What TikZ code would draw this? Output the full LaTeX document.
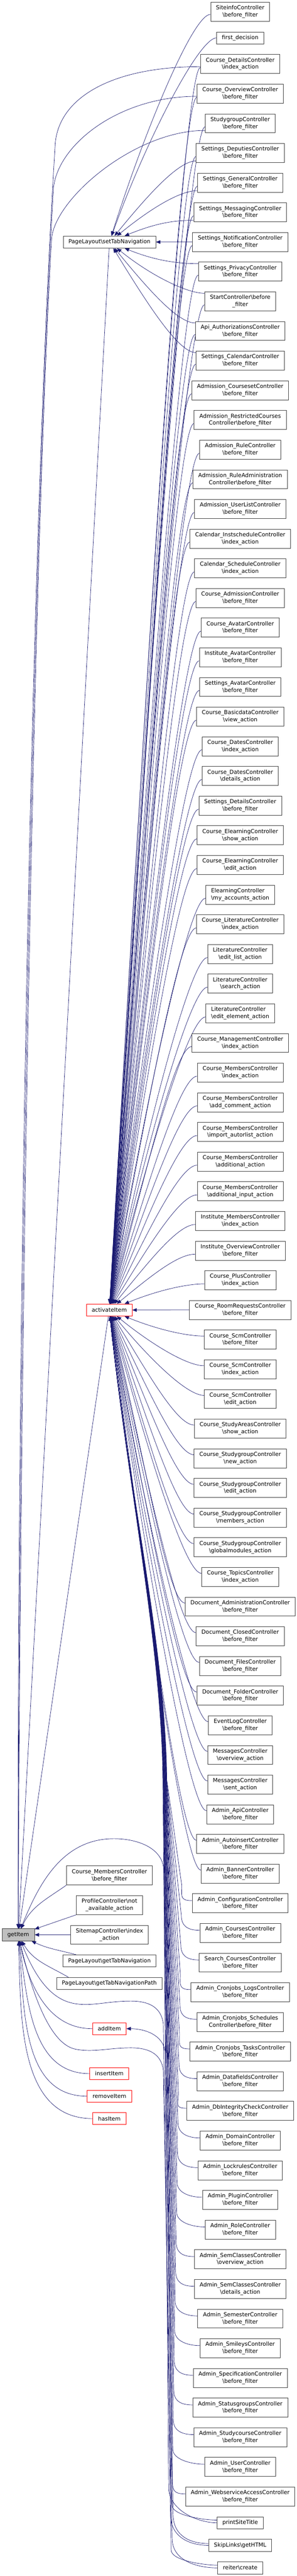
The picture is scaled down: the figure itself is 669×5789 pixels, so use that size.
\documentclass[tikz,border=0pt]{standalone}
\usepackage{fontspec}
\setmainfont{DejaVu Sans}
\usetikzlibrary{arrows.meta,calc}
\definecolor{mblue}{RGB}{25,25,112}
\pgfdeclarelayer{bg}
\pgfsetlayers{bg,main}
\newcommand\bsl{\textbackslash}
\newcommand\lft[2]{\begin{tabular}{@{}l@{}}#1\\#2\end{tabular}}
% drawing unit: 1 unit = 0.1pt (picture is scaled up on output)
% fan edge: #1 source, #2 source y (down), #3 target, #4 target y (down), #5 start offset
\newcommand\callfan[5]{%
  \pgfmathsetmacro\fD{(#4)-(#2)}%
  \pgfmathsetmacro\fA{atan2(\fD,164)}%
  \pgfmathsetmacro\fL{100*veclen(1.64,\fD/100)}%
  \pgfmathsetmacro\fI{0.045*\fL}%
  \pgfmathsetmacro\fO{min(4,0.03*\fL)}%
  \pgfmathsetmacro\fS{\fD>1 ? -0.1*#5 : (\fD<-1 ? 0.1*#5 : 0)}%
  \draw[callarrow] ([yshift=\fS pt]#1.west) to[out=180,in=\fA,out distance=\fO pt,in distance=\fI pt] (#3);
}
% bundle edge from far-below nodes to activateItem: #1 source, #2 source y (down)
\newcommand\callbund[2]{%
  \pgfmathsetmacro\bY{#2}%
  \pgfmathsetmacro\bH{410-(\bY-4250)*0.016}%
  \pgfmathsetmacro\bC{376-(\bY-4250)*0.006}%
  \pgfmathsetmacro\bT{-(\bY-40)}%
  \pgfmathsetmacro\bCC{\bC-3}%
  \draw[callarrow] ([yshift=0.6pt]#1.west) to[out=180,in=-90,out distance=2.8pt,in distance=2.4pt] (\bH,\bT) -- (\bC,-4000) .. controls (\bCC,-3700) and (290,-3350) .. (act);
}
\begin{document}
\begin{tikzpicture}[x=0.1pt,y=0.1pt,
  fn/.style={draw=black!75,line width=0.09pt,fill=white,inner xsep=1.2pt,inner ysep=0.2pt,minimum height=2.7pt,align=center,font=\fontsize{1.25}{1.6}\selectfont},
  fn2/.style={fn,minimum height=4.27pt},
  fnred/.style={fn,draw=red},
  callarrow/.style={draw=mblue,line width=0.08pt,-{Triangle[length=1pt,width=0.8pt]}}]
\useasboundingbox (0,0) rectangle (669,-5789);

% ---------- right column ----------
\node[fn2] (r1) at (541.2,-26.3) {SiteinfoController\\\bsl before\_filter};
\node[fn] (r2) at (541.2,-85.2) {first\_decision};
\foreach \lab [count=\i from 3] in {
Course\_DetailsController\\\bsl index\_action,
Course\_OverviewController\\\bsl before\_filter,
StudygroupController\\\bsl before\_filter,
Settings\_DeputiesController\\\bsl before\_filter,
Settings\_GeneralController\\\bsl before\_filter,
Settings\_MessagingController\\\bsl before\_filter,
Settings\_NotificationController\\\bsl before\_filter,
Settings\_PrivacyController\\\bsl before\_filter,
StartController\bsl before\\\_filter,
Api\_AuthorizationsController\\\bsl before\_filter,
Settings\_CalendarController\\\bsl before\_filter,
Admission\_CoursesetController\\\bsl before\_filter,
Admission\_RestrictedCourses\\Controller\bsl before\_filter,
Admission\_RuleController\\\bsl before\_filter,
Admission\_RuleAdministration\\Controller\bsl before\_filter,
Admission\_UserListController\\\bsl before\_filter,
Calendar\_InstscheduleController\\\bsl index\_action,
Calendar\_ScheduleController\\\bsl index\_action,
Course\_AdmissionController\\\bsl before\_filter,
Course\_AvatarController\\\bsl before\_filter,
Institute\_AvatarController\\\bsl before\_filter,
Settings\_AvatarController\\\bsl before\_filter,
Course\_BasicdataController\\\bsl view\_action,
Course\_DatesController\\\bsl index\_action,
Course\_DatesController\\\bsl details\_action,
Settings\_DetailsController\\\bsl before\_filter,
Course\_ElearningController\\\bsl show\_action,
Course\_ElearningController\\\bsl edit\_action,
\lft{ElearningController}{\bsl my\_accounts\_action},
Course\_LiteratureController\\\bsl index\_action,
LiteratureController\\\bsl edit\_list\_action,
LiteratureController\\\bsl search\_action,
\lft{LiteratureController}{\bsl edit\_element\_action},
Course\_ManagementController\\\bsl index\_action,
Course\_MembersController\\\bsl index\_action,
Course\_MembersController\\\bsl add\_comment\_action,
Course\_MembersController\\\bsl import\_autorlist\_action,
Course\_MembersController\\\bsl additional\_action,
Course\_MembersController\\\bsl additional\_input\_action,
Institute\_MembersController\\\bsl index\_action,
Institute\_OverviewController\\\bsl before\_filter,
Course\_PlusController\\\bsl index\_action,
Course\_RoomRequestsController\\\bsl before\_filter,
Course\_ScmController\\\bsl before\_filter,
Course\_ScmController\\\bsl index\_action,
Course\_ScmController\\\bsl edit\_action,
Course\_StudyAreasController\\\bsl show\_action,
Course\_StudygroupController\\\bsl new\_action,
Course\_StudygroupController\\\bsl edit\_action,
Course\_StudygroupController\\\bsl members\_action,
Course\_StudygroupController\\\bsl globalmodules\_action,
Course\_TopicsController\\\bsl index\_action,
Document\_AdministrationController\\\bsl before\_filter,
Document\_ClosedController\\\bsl before\_filter,
Document\_FilesController\\\bsl before\_filter,
Document\_FolderController\\\bsl before\_filter,
EventLogController\\\bsl before\_filter,
MessagesController\\\bsl overview\_action,
MessagesController\\\bsl sent\_action,
Admin\_ApiController\\\bsl before\_filter,
Admin\_AutoinsertController\\\bsl before\_filter,
Admin\_BannerController\\\bsl before\_filter,
Admin\_ConfigurationController\\\bsl before\_filter,
Admin\_CoursesController\\\bsl before\_filter,
Search\_CoursesController\\\bsl before\_filter,
Admin\_Cronjobs\_LogsController\\\bsl before\_filter,
Admin\_Cronjobs\_Schedules\\Controller\bsl before\_filter,
Admin\_Cronjobs\_TasksController\\\bsl before\_filter,
Admin\_DatafieldsController\\\bsl before\_filter,
Admin\_DbIntegrityCheckController\\\bsl before\_filter,
Admin\_DomainController\\\bsl before\_filter,
Admin\_LockrulesController\\\bsl before\_filter,
Admin\_PluginController\\\bsl before\_filter,
Admin\_RoleController\\\bsl before\_filter,
Admin\_SemClassesController\\\bsl overview\_action,
Admin\_SemClassesController\\\bsl details\_action,
Admin\_SemesterController\\\bsl before\_filter,
Admin\_SmileysController\\\bsl before\_filter,
Admin\_SpecificationController\\\bsl before\_filter,
Admin\_StatusgroupsController\\\bsl before\_filter,
Admin\_StudycourseController\\\bsl before\_filter,
Admin\_UserController\\\bsl before\_filter,
Admin\_WebserviceAccessController\\\bsl before\_filter}
{\node[fn2] (r\i) at (541.2,{-(143.8+(\i-3)*66.667)}) {\lab};}
\node[fn] (r86) at (541.2,-5669.3) {printSiteTitle};
\node[fn] (r87) at (541.2,-5720) {SkipLinks\bsl getHTML};
\node[fn] (r88) at (541.2,-5770.7) {reiter\bsl create};

% ---------- middle and left ----------
\node[fn] (st) at (246.6,-544) {PageLayout\bsl setTabNavigation};
\node[fnred] (act) at (246.2,-2944) {activateItem};
\node[fn2] (cmb) at (246.6,-4214.7) {Course\_MembersController\\\bsl before\_filter};
\node[fn2] (pf) at (246.6,-4281.3) {ProfileController\bsl not\\\_available\_action};
\node[fn2] (sm) at (246.6,-4348) {SitemapController\bsl index\\\_action};
\node[fn,fill=black!25] (gi) at (41.1,-4348) {getItem};
\node[fn] (gtn) at (246.6,-4406.7) {PageLayout\bsl getTabNavigation};
\node[fn] (gtp) at (246.2,-4457.3) {PageLayout\bsl getTabNavigationPath};
\node[fnred] (add) at (246.4,-4559) {addItem};
\node[fnred] (ins) at (246.4,-4660) {insertItem};
\node[fnred] (rem) at (246.5,-4710.7) {removeItem};
\node[fnred] (has) at (246.4,-4761) {hasItem};

\begin{pgfonlayer}{bg}
% to setTabNavigation
\callfan{r1}{26.3}{st}{544}{6}
\callfan{r2}{85.2}{st}{544}{0}
\callfan{r6}{343.8}{st}{544}{18}
\callfan{r7}{410.5}{st}{544}{18}
\callfan{r8}{477.1}{st}{544}{18}
\callfan{r9}{543.8}{st}{544}{0}
\callfan{r10}{610.5}{st}{544}{18}
\callfan{r11}{677.1}{st}{544}{18}
\callfan{r12}{743.8}{st}{544}{18}
\callfan{r13}{810.5}{st}{544}{18}
% to activateItem
\foreach \i in {3,...,64} {\callfan{r\i}{143.8+(\i-3)*66.667}{act}{2944}{8}}
\foreach \i in {65,...,85} {\callbund{r\i}{143.8+(\i-3)*66.667}}
\callbund{r86}{5669.3}
\callbund{r88}{5770.7}
% far-left edges to getItem
\draw[callarrow] ([yshift=-0.6pt]r3.west) to[out=180,in=88,out distance=20pt,in distance=11pt] (124,-330) .. controls (70,-1200) and (38,-3000) .. (gi);
\draw[callarrow] ([yshift=-0.6pt]r4.west) to[out=180,in=88,out distance=18pt,in distance=10pt] (120,-430) .. controls (72,-1250) and (42,-3000) .. (gi);
\draw[callarrow] ([yshift=-1.6pt]r5.west) to[out=180,in=88,out distance=16pt,in distance=9pt] (116,-540) .. controls (74,-1300) and (46,-3000) .. (gi);
% middle column to getItem
\draw[callarrow] (st) -- (gi);
\draw[callarrow] (act) -- (gi);
\draw[callarrow] (cmb.south west) to[out=215,in=65] (gi);
\draw[callarrow] (pf.south west) -- (gi);
\draw[callarrow] (sm) -- (gi);
\draw[callarrow] ([xshift=-7.5pt]gtn.north) to[out=165,in=-25] (gi);
\draw[callarrow] ([xshift=-9.2pt]gtp.north) to[out=150,in=-60] (gi);
\draw[callarrow] (add.west) to[out=180,in=-78] (gi);
\draw[callarrow] (ins.west) to[out=180,in=-82] (gi);
\draw[callarrow] (rem.west) to[out=180,in=-85] (gi);
\draw[callarrow] (has.west) to[out=180,in=-88] (gi);
% bottom nodes to getItem / addItem
\draw[callarrow] (r86.west) to[out=180,in=-90,out distance=4.5pt,in distance=5pt] (380,-5590) -- (369,-4205) to[out=90,in=0] (257,-4132) to[out=180,in=68] (gi);
\draw[callarrow] (r87.west) to[out=180,in=-90,out distance=4.5pt,in distance=5pt] (384,-5650) -- (368,-4548) .. controls (363,-4510) and (335,-4497) .. (295,-4497) .. controls (240,-4497) and (205,-4510) .. (165,-4502) .. controls (115,-4492) and (80,-4445) .. (gi);
\draw[callarrow] (r88.west) to[out=180,in=-90,out distance=4.5pt,in distance=5pt] (388,-5705) -- (368,-4652) .. controls (363,-4615) and (335,-4602) .. (295,-4602) .. controls (245,-4602) and (210,-4613) .. (170,-4605) .. controls (115,-4594) and (75,-4490) .. (gi);
\draw[callarrow] ([yshift=0.4pt]r87.west) to[out=180,in=-90,out distance=4pt,in distance=5pt] (390,-5650) -- (372,-4612) to[out=95,in=0] (add.east);
\end{pgfonlayer}
\end{tikzpicture}
\end{document}
